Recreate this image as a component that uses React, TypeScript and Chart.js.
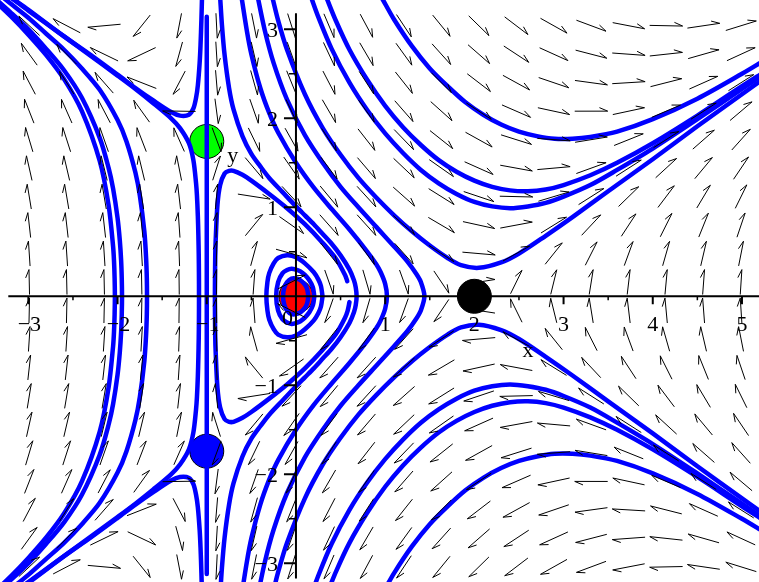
import React, { useEffect, useRef } from 'react';
import { Chart, registerables } from 'chart.js';

Chart.register(...registerables);

type P = [number, number];

// visible window (data units)
const X_MIN = -3.318;
const X_MAX = 5.191;
const Y_MIN = -3.21;
const Y_MAX = 3.329;

// axis ticks
const xTickValues = [-3, -2, -1, 1, 2, 3, 4, 5];
const xTickLabels = ['\u22123', '\u22122', '\u22121', '1', '2', '3', '4', '5'];
const xMinorTicks = [-2.5, -1.5, -0.5, 0.5, 1.5, 2.5, 3.5, 4.5];
const yTickValues = [3, 2, 1, -1, -2, -3];
const yTickLabels = ['3', '2', '1', '\u22121', '\u22122', '\u22123'];
const yMinorTicks = [2.5, 1.5, 0.5, -0.5, -1.5, -2.5];

// equilibrium points
const eqX = [0, 2, -1, -1];
const eqY = [0, 0, 1.74, -1.74];
const eqColors = ['#ff0000', '#000000', '#00ff00', '#0000ff'];

// direction-field grid
const gridX = [-2.99, -2.57, -2.15, -1.73, -1.31, -0.89, -0.47, -0.05, 0.37, 0.79, 1.21, 1.63, 2.05, 2.47, 2.89, 3.31, 3.73, 4.15, 4.57, 4.99];
const gridY = [3.04, 2.72, 2.4, 2.08, 1.76, 1.44, 1.12, 0.8, 0.48, 0.16, -0.16, -0.48, -0.8, -1.12, -1.44, -1.76, -2.08, -2.4, -2.72, -3.04];

// system: x' = y(x+1), y' = x^2 - 2x - y^2
const fieldX = (x: number, y: number) => y * (x + 1);
const fieldY = (x: number, y: number) => x * x - 2 * x - y * y;

// trajectories
const loopC: P[] = [[0.139, 0], [0.125, 0.08], [0.1, 0.13], [0.05, 0.18], [0, 0.2], [-0.05, 0.2], [-0.1, 0.16], [-0.13, 0.1], [-0.145, 0], [-0.13, -0.1], [-0.1, -0.16], [-0.05, -0.2], [0, -0.2], [0.05, -0.18], [0.1, -0.13], [0.125, -0.08], [0.139, 0]];
const loopB: P[] = [[0.206, 0], [0.19, 0.1], [0.15, 0.18], [0.1, 0.24], [0.05, 0.28], [0, 0.3], [-0.05, 0.31], [-0.1, 0.295], [-0.15, 0.26], [-0.2, 0.16], [-0.222, 0], [-0.2, -0.16], [-0.15, -0.26], [-0.1, -0.295], [-0.05, -0.31], [0, -0.3], [0.05, -0.28], [0.1, -0.24], [0.15, -0.18], [0.19, -0.1], [0.206, 0]];
const loopA: P[] = [[0.298, 0], [0.28, 0.115], [0.25, 0.19], [0.2, 0.27], [0.1, 0.37], [0, 0.44], [-0.1, 0.46], [-0.2, 0.43], [-0.25, 0.37], [-0.3, 0.26], [-0.32, 0.16], [-0.332, 0], [-0.32, -0.16], [-0.3, -0.26], [-0.25, -0.37], [-0.2, -0.43], [-0.1, -0.46], [0, -0.44], [0.1, -0.37], [0.2, -0.27], [0.25, -0.19], [0.28, -0.115], [0.298, 0]];
const bigLoop: P[] = [[0.575, 0.17], [0.55, 0.24], [0.45, 0.42], [0.3, 0.6], [0.1, 0.81], [-0.1, 0.99], [-0.3, 1.15], [-0.5, 1.3], [-0.6, 1.365], [-0.7, 1.41], [-0.75, 1.41], [-0.8, 1.38], [-0.85, 1.25], [-0.88, 1.03], [-0.9, 0.63], [-0.905, 0.46], [-0.909, 0], [-0.905, -0.46], [-0.9, -0.63], [-0.88, -1.03], [-0.85, -1.25], [-0.8, -1.38], [-0.75, -1.41], [-0.7, -1.41], [-0.6, -1.365], [-0.5, -1.3], [-0.3, -1.15], [-0.1, -0.99], [0.1, -0.81], [0.3, -0.6], [0.45, -0.42], [0.55, -0.24], [0.58, -0.16], [0.6, -0.065]];
const curveP1: P[] = [[-0.85, 3.36], [-0.83, 3.05], [-0.8, 2.71], [-0.75, 2.34], [-0.7, 2.1], [-0.6, 1.8], [-0.5, 1.6], [-0.4, 1.46], [-0.3, 1.33], [-0.15, 1.17], [0, 1.01], [0.1, 0.91], [0.2, 0.81], [0.3, 0.7], [0.4, 0.59], [0.5, 0.46], [0.6, 0.3], [0.65, 0.18], [0.67, 0.1], [0.68, 0], [0.67, -0.1], [0.65, -0.18], [0.6, -0.3], [0.5, -0.46], [0.4, -0.59], [0.3, -0.7], [0.2, -0.81], [0.1, -0.91], [0, -1.01], [-0.15, -1.17], [-0.3, -1.33], [-0.4, -1.46], [-0.5, -1.6], [-0.6, -1.8], [-0.7, -2.1], [-0.75, -2.34], [-0.8, -2.71], [-0.83, -3.05], [-0.85, -3.36]];
const curveP2: P[] = [[-0.61, 3.36], [-0.55, 2.98], [-0.5, 2.72], [-0.4, 2.34], [-0.3, 2.06], [-0.2, 1.84], [0, 1.5], [0.2, 1.22], [0.4, 0.98], [0.6, 0.75], [0.8, 0.5], [0.9, 0.36], [0.95, 0.27], [1.0, 0.14], [1.02, 0], [1.0, -0.14], [0.95, -0.27], [0.9, -0.36], [0.8, -0.5], [0.6, -0.75], [0.4, -0.98], [0.2, -1.22], [0, -1.5], [-0.2, -1.84], [-0.3, -2.06], [-0.4, -2.34], [-0.5, -2.72], [-0.55, -2.98], [-0.61, -3.36]];
const curveP3: P[] = [[-0.43, 3.37], [-0.35, 2.99], [-0.25, 2.62], [-0.1, 2.21], [0.1, 1.81], [0.3, 1.5], [0.5, 1.23], [0.7, 1.0], [0.9, 0.78], [1.1, 0.56], [1.25, 0.39], [1.35, 0.25], [1.4, 0.16], [1.44, 0], [1.4, -0.16], [1.35, -0.25], [1.25, -0.39], [1.1, -0.56], [0.9, -0.78], [0.7, -1.0], [0.5, -1.23], [0.3, -1.5], [0.1, -1.81], [-0.1, -2.21], [-0.25, -2.62], [-0.35, -2.99], [-0.43, -3.37]];
const curveVUp: P[] = [[-0.26, 3.34], [-0.2, 3.1], [-0.1, 2.77], [0.1, 2.27], [0.3, 1.89], [0.5, 1.59], [0.7, 1.33], [0.9, 1.11], [1.1, 0.91], [1.3, 0.73], [1.5, 0.57], [1.7, 0.43], [1.85, 0.35], [2.05, 0.32], [2.3, 0.38], [2.5, 0.48], [2.8, 0.68], [3.1, 0.89], [3.5, 1.18], [4.0, 1.54], [4.5, 1.91], [5.0, 2.27], [5.25, 2.45]];
const curveVDown: P[] = [[-0.26, -3.34], [-0.2, -3.1], [-0.1, -2.77], [0.1, -2.27], [0.3, -1.89], [0.5, -1.59], [0.7, -1.33], [0.9, -1.11], [1.1, -0.91], [1.3, -0.73], [1.5, -0.57], [1.7, -0.43], [1.85, -0.35], [2.05, -0.32], [2.3, -0.38], [2.5, -0.48], [2.8, -0.68], [3.1, -0.89], [3.5, -1.18], [4.0, -1.54], [4.5, -1.91], [5.0, -2.27], [5.25, -2.45]];
const curveU3Up: P[] = [[0.17, 3.36], [0.25, 3.14], [0.4, 2.78], [0.6, 2.4], [0.8, 2.09], [1.0, 1.83], [1.2, 1.61], [1.4, 1.42], [1.6, 1.27], [1.8, 1.15], [2.0, 1.06], [2.2, 1.01], [2.4, 0.99], [2.6, 1.01], [2.8, 1.05], [3.0, 1.12], [3.3, 1.25], [3.6, 1.42], [4.0, 1.66], [4.5, 1.99], [5.0, 2.33], [5.25, 2.5]];
const curveU3Down: P[] = [[0.17, -3.36], [0.25, -3.14], [0.4, -2.78], [0.6, -2.4], [0.8, -2.09], [1.0, -1.83], [1.2, -1.61], [1.4, -1.42], [1.6, -1.27], [1.8, -1.15], [2.0, -1.06], [2.2, -1.01], [2.4, -0.99], [2.6, -1.01], [2.8, -1.05], [3.0, -1.12], [3.3, -1.25], [3.6, -1.42], [4.0, -1.66], [4.5, -1.99], [5.0, -2.33], [5.25, -2.5]];
const curveU2Up: P[] = [[0.34, 3.36], [0.45, 3.09], [0.6, 2.77], [0.8, 2.43], [1.0, 2.14], [1.2, 1.9], [1.4, 1.7], [1.6, 1.53], [1.8, 1.4], [2.0, 1.3], [2.2, 1.23], [2.4, 1.19], [2.6, 1.18], [2.8, 1.2], [3.0, 1.25], [3.3, 1.36], [3.6, 1.5], [4.0, 1.72], [4.5, 2.03], [5.0, 2.36], [5.25, 2.52]];
const curveU2Down: P[] = [[0.34, -3.36], [0.45, -3.09], [0.6, -2.77], [0.8, -2.43], [1.0, -2.14], [1.2, -1.9], [1.4, -1.7], [1.6, -1.53], [1.8, -1.4], [2.0, -1.3], [2.2, -1.23], [2.4, -1.19], [2.6, -1.18], [2.8, -1.2], [3.0, -1.25], [3.3, -1.36], [3.6, -1.5], [4.0, -1.72], [4.5, -2.03], [5.0, -2.36], [5.25, -2.52]];
const curveU1Up: P[] = [[0.97, 3.34], [1.1, 3.11], [1.3, 2.81], [1.5, 2.56], [1.7, 2.36], [1.9, 2.18], [2.1, 2.04], [2.3, 1.93], [2.5, 1.85], [2.7, 1.8], [2.9, 1.77], [3.1, 1.77], [3.3, 1.79], [3.6, 1.85], [4.0, 1.99], [4.5, 2.22], [5.0, 2.5], [5.25, 2.65]];
const curveU1Down: P[] = [[0.97, -3.34], [1.1, -3.11], [1.3, -2.81], [1.5, -2.56], [1.7, -2.36], [1.9, -2.18], [2.1, -2.04], [2.3, -1.93], [2.5, -1.85], [2.7, -1.8], [2.9, -1.77], [3.1, -1.77], [3.3, -1.79], [3.6, -1.85], [4.0, -1.99], [4.5, -2.22], [5.0, -2.5], [5.25, -2.65]];
const curveD1Up: P[] = [[-1.053, 3.37], [-1.06, 3.11], [-1.07, 2.82], [-1.08, 2.62], [-1.1, 2.37], [-1.12, 2.23], [-1.15, 2.11], [-1.2, 2.04], [-1.3, 2.03], [-1.4, 2.07], [-1.6, 2.2], [-1.8, 2.34], [-2.0, 2.49], [-2.3, 2.71], [-2.6, 2.92], [-3.0, 3.22], [-3.2, 3.36], [-3.35, 3.47]];
const curveD1Down: P[] = [[-1.053, -3.37], [-1.06, -3.11], [-1.07, -2.82], [-1.08, -2.62], [-1.1, -2.37], [-1.12, -2.23], [-1.15, -2.11], [-1.2, -2.04], [-1.3, -2.03], [-1.4, -2.07], [-1.6, -2.2], [-1.8, -2.34], [-2.0, -2.49], [-2.3, -2.71], [-2.6, -2.92], [-3.0, -3.22], [-3.2, -3.36], [-3.35, -3.47]];
const curveD2: P[] = [[-3.35, 3.46], [-3.2, 3.36], [-3.0, 3.21], [-2.6, 2.92], [-2.3, 2.7], [-2.0, 2.48], [-1.8, 2.33], [-1.6, 2.17], [-1.4, 2.0], [-1.3, 1.89], [-1.2, 1.72], [-1.15, 1.53], [-1.12, 1.27], [-1.11, 1.13], [-1.1, 0.9], [-1.094, 0.68], [-1.09, 0.47], [-1.088, 0.27], [-1.087, 0], [-1.088, -0.27], [-1.09, -0.47], [-1.094, -0.68], [-1.1, -0.9], [-1.11, -1.13], [-1.12, -1.27], [-1.15, -1.53], [-1.2, -1.72], [-1.3, -1.89], [-1.4, -2.0], [-1.6, -2.17], [-1.8, -2.33], [-2.0, -2.48], [-2.3, -2.7], [-2.6, -2.92], [-3.0, -3.21], [-3.2, -3.36], [-3.35, -3.46]];
const curveLb: P[] = [[-3.35, 3.41], [-3.2, 3.29], [-3.0, 3.13], [-2.8, 2.95], [-2.6, 2.77], [-2.4, 2.56], [-2.2, 2.32], [-2.0, 1.98], [-1.9, 1.74], [-1.8, 1.39], [-1.75, 1.13], [-1.7, 0.73], [-1.68, 0.43], [-1.672, 0.2], [-1.67, 0], [-1.672, -0.2], [-1.68, -0.43], [-1.7, -0.73], [-1.75, -1.13], [-1.8, -1.39], [-1.9, -1.74], [-2.0, -1.98], [-2.2, -2.32], [-2.4, -2.56], [-2.6, -2.77], [-2.8, -2.95], [-3.0, -3.13], [-3.2, -3.29], [-3.35, -3.41]];
const curveLa2: P[] = [[-3.4, 3.37], [-3.2, 3.19], [-3.0, 3.0], [-2.8, 2.78], [-2.6, 2.54], [-2.4, 2.23], [-2.2, 1.78], [-2.1, 1.44], [-2.05, 1.21], [-2.0, 0.88], [-1.975, 0.63], [-1.96, 0.4], [-1.953, 0.2], [-1.95, 0], [-1.953, -0.2], [-1.96, -0.4], [-1.975, -0.63], [-2.0, -0.88], [-2.05, -1.21], [-2.1, -1.44], [-2.2, -1.78], [-2.4, -2.23], [-2.6, -2.54], [-2.8, -2.78], [-3.0, -3.0], [-3.2, -3.19], [-3.4, -3.37]];
const curveLa1: P[] = [[-3.4, 3.34], [-3.2, 3.15], [-3.0, 2.94], [-2.8, 2.71], [-2.6, 2.44], [-2.4, 2.08], [-2.2, 1.52], [-2.1, 1.02], [-2.05, 0.56], [-2.04, 0.4], [-2.033, 0.2], [-2.03, 0], [-2.033, -0.2], [-2.04, -0.4], [-2.05, -0.56], [-2.1, -1.02], [-2.2, -1.52], [-2.4, -2.08], [-2.6, -2.44], [-2.8, -2.71], [-3.0, -2.94], [-3.2, -3.15], [-3.4, -3.34]];
const lineXm1: P[] = [[-1, 3.14], [-1, -3.12]];

const allCurves: P[][] = [
  loopC, loopB, loopA, bigLoop, curveP1, curveP2, curveP3,
  curveVUp, curveVDown, curveU3Up, curveU3Down, curveU2Up, curveU2Down,
  curveU1Up, curveU1Down, curveD1Up, curveD1Down, curveD2, curveLb,
  curveLa2, curveLa1, lineXm1,
];

const ARROW_W = 33; // pixel length of a horizontal arrow
const ARROW_H = 25; // pixel length of a vertical arrow
const BARB = 9;
const BARB_ANGLE = (23 * Math.PI) / 180;
const FONT = '22px "Liberation Serif", "Times New Roman", serif';

const overlayPlugin = {
  id: 'phaseOverlay',
  afterDatasetsDraw(chart: any) {
    const ctx: CanvasRenderingContext2D = chart.ctx;
    const sx = chart.scales.x;
    const sy = chart.scales.y;
    const px = (v: number) => sx.getPixelForValue(v);
    const py = (v: number) => sy.getPixelForValue(v);
    ctx.save();

    // direction field
    ctx.strokeStyle = '#000';
    ctx.lineWidth = 1;
    ctx.beginPath();
    const c = Math.cos(BARB_ANGLE);
    const s = Math.sin(BARB_ANGLE);
    for (const gx of gridX) {
      for (const gy of gridY) {
        const u = fieldX(gx, gy) / 8.4;
        const v = fieldY(gx, gy) / 6.4;
        const n = Math.hypot(u, v);
        if (n === 0) continue;
        const dx = (u / n) * ARROW_W;
        const dy = -(v / n) * ARROW_H;
        const cx = px(gx);
        const cy = py(gy);
        const x0 = cx - dx / 2, y0 = cy - dy / 2;
        const x1 = cx + dx / 2, y1 = cy + dy / 2;
        const L = Math.hypot(dx, dy);
        const ux = dx / L, uy = dy / L;
        const bx = -ux, by = -uy;
        const nx = uy, ny = -ux;
        ctx.moveTo(x0, y0);
        ctx.lineTo(x1, y1);
        ctx.lineTo(x1 + BARB * (c * bx + s * nx), y1 + BARB * (c * by + s * ny));
      }
    }
    ctx.stroke();

    // axes
    const ox = px(0);
    const oy = py(0);
    ctx.lineWidth = 2;
    ctx.beginPath();
    ctx.moveTo(px(-3.225), oy);
    ctx.lineTo(px(X_MAX), oy);
    ctx.moveTo(ox, py(3.18));
    ctx.lineTo(ox, py(-3.17));
    for (const t of xTickValues) {
      ctx.moveTo(px(t), oy);
      ctx.lineTo(px(t), oy + 8);
    }
    for (const t of yTickValues) {
      ctx.moveTo(ox, py(t));
      ctx.lineTo(ox - 12, py(t));
    }
    ctx.stroke();
    ctx.lineWidth = 1.5;
    ctx.beginPath();
    for (const t of xMinorTicks) {
      ctx.moveTo(px(t), oy);
      ctx.lineTo(px(t), oy + 4);
    }
    for (const t of yMinorTicks) {
      ctx.moveTo(ox, py(t));
      ctx.lineTo(ox - 7, py(t));
    }
    ctx.stroke();

    // labels
    ctx.fillStyle = '#000';
    ctx.font = FONT;
    ctx.textBaseline = 'alphabetic';
    ctx.textAlign = 'center';
    xTickValues.forEach((t, i) => {
      ctx.fillText(xTickLabels[i], px(t) + (t < 0 ? 1 : 0), oy + 35);
    });
    ctx.fillText('0', ox - 8.5, oy + 29);
    ctx.textAlign = 'right';
    yTickValues.forEach((t, i) => {
      ctx.fillText(yTickLabels[i], ox - 18, py(t) + 7.5);
    });
    ctx.textAlign = 'center';
    ctx.fillText('x', px(2.6), py(-0.68));
    ctx.fillText('y', px(-0.71), py(1.51));

    ctx.restore();
  },
};

export default function App() {
  const canvasRef = useRef<HTMLCanvasElement | null>(null);

  useEffect(() => {
    const canvas = canvasRef.current;
    if (!canvas) return;
    const curveDatasets = allCurves.map((curve) => ({
      type: 'scatter' as const,
      data: curve.map(([x, y]) => ({ x, y })),
      showLine: true,
      borderColor: '#0000ff',
      backgroundColor: '#0000ff',
      borderWidth: 4.5,
      pointRadius: 0,
      pointHoverRadius: 0,
      tension: 0.3,
      fill: false,
      borderJoinStyle: 'round' as const,
      borderCapStyle: 'round' as const,
      order: 1,
    }));
    const eqDataset = {
      type: 'scatter' as const,
      data: eqX.map((x, i) => ({ x, y: eqY[i] })),
      showLine: false,
      pointRadius: 17,
      pointHoverRadius: 17,
      pointBackgroundColor: eqColors,
      pointBorderColor: '#000000',
      pointBorderWidth: 1,
      order: 5,
    };
    const chart = new Chart(canvas, {
      type: 'scatter',
      data: { datasets: [eqDataset, ...curveDatasets] as any },
      options: {
        animation: false,
        responsive: false,
        devicePixelRatio: 1,
        events: [],
        layout: { padding: 0, autoPadding: false },
        plugins: { legend: { display: false }, tooltip: { enabled: false } },
        scales: {
          x: { type: 'linear', min: X_MIN, max: X_MAX, display: false },
          y: { type: 'linear', min: Y_MIN, max: Y_MAX, display: false },
        },
      },
      plugins: [overlayPlugin],
    });
    return () => chart.destroy();
  }, []);

  return (
    <div style={{ position: 'absolute', left: 0, top: 0, width: 759, height: 582, background: '#fff' }}>
      <canvas ref={canvasRef} width={759} height={582} style={{ width: 759, height: 582, display: 'block' }} />
    </div>
  );
}
